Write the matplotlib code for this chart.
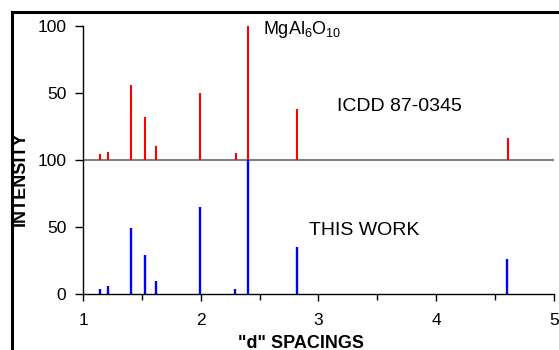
import numpy as np
import matplotlib
matplotlib.use('Agg')
import matplotlib.pyplot as plt
from matplotlib.lines import Line2D

plt.rcParams['font.family'] = ['Liberation Sans', 'DejaVu Sans']
plt.rcParams['mathtext.fontset'] = 'custom'
plt.rcParams['mathtext.rm'] = 'Liberation Sans'
plt.rcParams['mathtext.it'] = 'Liberation Sans'

# d spacings and relative intensities
ref_d = [1.144, 1.21, 1.405, 1.529, 1.623, 1.991, 2.297, 2.399, 2.815, 4.607]
ref_int = [4, 6, 56, 32, 10, 50, 5, 100, 38, 16]
work_d = [1.144, 1.21, 1.405, 1.529, 1.623, 1.991, 2.29, 2.399, 2.82, 4.598]
work_int = [4, 6, 49, 29, 10, 65, 4, 100, 35, 26]

OFFSET = 100  # reference pattern is stacked above this work
ytick_pos = [0, 50, 100, 150, 200]
ytick_labels = ['0', '50', '100', '50', '100']

fig = plt.figure(figsize=(5.59, 3.5), dpi=100)
ax = fig.add_axes([0.1485, 0.16, 0.8425, 0.7666])

ax.axhline(OFFSET, color='#808080', lw=1.5, zorder=1)
ax.vlines(work_d, 0, work_int, color='blue', lw=1.7, zorder=2)
ax.vlines(ref_d, OFFSET, np.array(ref_int) + OFFSET, color='red', lw=1.5, zorder=2)

ax.set_xlim(1, 5)
ax.set_ylim(0, 200)
ax.set_xticks([1, 2, 3, 4, 5])
ax.set_xticks(np.arange(1.5, 5, 1.0), minor=True)
ax.set_yticks(ytick_pos)
ax.set_yticklabels(ytick_labels)
ax.tick_params(axis='y', direction='out', length=6, width=1, pad=6, labelsize=12.5)
ax.tick_params(axis='x', which='major', direction='out', length=5, width=1, pad=9, labelsize=12.5)
ax.tick_params(axis='x', which='minor', direction='out', length=4, width=1)
for s in ['top', 'right']:
    ax.spines[s].set_visible(False)
ax.spines['left'].set_linewidth(1)
ax.spines['bottom'].set_linewidth(1)

ax.text(2.529, 197, r'MgAl$_6$O$_{10}$', fontsize=13, va='center', ha='left')
ax.text(3.154, 139.5, 'ICDD 87-0345', fontsize=14, va='center', ha='left')
ax.text(2.922, 47.5, 'THIS WORK', fontsize=14, va='center', ha='left')

fig.text(0.036, 0.49, 'INTENSITY', rotation=90, fontsize=13, fontweight='bold',
         ha='center', va='center')
fig.text(0.538, 0.02, '"d" SPACINGS', fontsize=13, fontweight='bold',
         ha='center', va='center')

# outer frame (left and top only, as cropped)
fx, fy = 11.5 / 559, 1 - 11.5 / 350
fig.add_artist(Line2D([fx, fx], [0, fy], color='black', lw=2.2, transform=fig.transFigure))
fig.add_artist(Line2D([fx, 1], [fy, fy], color='black', lw=2.2, transform=fig.transFigure))

fig.savefig('out.png', dpi=100)
